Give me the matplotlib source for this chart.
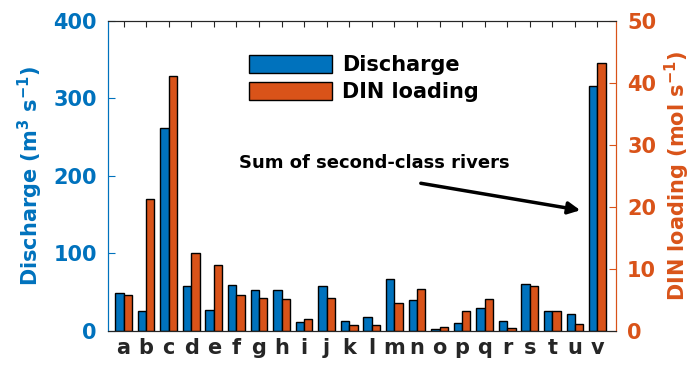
import matplotlib.pyplot as plt
import numpy as np
from matplotlib.patches import Patch

# river labels and values
rivers = list("abcdefghijklmnopqrstuv")
discharge = [48.6, 25.8, 262, 58.5, 27.5, 58.9, 52.9, 52.5, 11.6, 58.0, 12.9,
             17.6, 67.0, 40.4, 2.2, 10.3, 29.7, 12.9, 60.6, 25.8, 21.5, 316]
din_load = [5.75, 21.3, 41.1, 12.5, 10.6, 5.8, 5.4, 5.1, 1.9, 5.4, 0.9,
            1.0, 4.5, 6.7, 0.65, 3.2, 5.2, 0.5, 7.3, 3.2, 1.1, 43.3]

BLUE = "#0072BD"
ORANGE = "#D95319"
DARK = "#262626"
FS = 15

x = np.arange(1, len(rivers) + 1)
w = 0.37

fig = plt.figure(figsize=(6.94, 3.65), dpi=100)
ax1 = fig.add_axes([0.1556, 0.0932, 0.732, 0.8493])
ax2 = ax1.twinx()

ax1.bar(x - w / 2, discharge, width=w, color=BLUE, edgecolor="black", lw=1)
ax2.bar(x + w / 2, din_load, width=w, color=ORANGE, edgecolor="black", lw=1)

ax1.set_xlim(0.31, 22.82)
ax1.set_ylim(0, 400)
ax2.set_ylim(0, 50)
ax1.set_yticks([0, 100, 200, 300, 400])
ax2.set_yticks([0, 10, 20, 30, 40, 50])
ax1.set_xticks(x)
ax1.set_xticklabels(rivers, fontsize=FS, fontweight="bold", color=DARK)

ax1.tick_params(axis="x", direction="in", top=True, bottom=False, length=4,
                color=DARK, pad=5)
ax1.tick_params(axis="y", direction="in", colors=BLUE, length=5,
                labelsize=FS, pad=8)
ax2.tick_params(axis="y", direction="in", colors=ORANGE, length=5,
                labelsize=FS, pad=8)
for lab in ax1.get_yticklabels() + ax2.get_yticklabels():
    lab.set_fontweight("bold")

ax1.set_ylabel("Discharge (m$^\\mathbf{3}$ s$^\\mathbf{-1}$)", color=BLUE,
               fontsize=FS, fontweight="bold", labelpad=6)
ax2.set_ylabel("DIN loading (mol s$^\\mathbf{-1}$)", color=ORANGE,
               fontsize=FS, fontweight="bold", labelpad=5)

for ax in (ax1, ax2):
    ax.spines["top"].set_color(DARK)
    ax.spines["bottom"].set_color(DARK)
    ax.spines["left"].set_color(BLUE)
    ax.spines["right"].set_color(ORANGE)

ax2.text(6.12, 27.1, "Sum of second-class rivers", fontsize=13,
         fontweight="bold", va="center", ha="left")
ax2.annotate("", xy=(21.36, 19.4), xytext=(14.05, 23.9),
             arrowprops=dict(arrowstyle="-|>", color="black", lw=2.5,
                             mutation_scale=18))

handles = [Patch(facecolor=BLUE, edgecolor="black", label="Discharge"),
           Patch(facecolor=ORANGE, edgecolor="black", label="DIN loading")]
ax2.legend(handles=handles, loc="upper left", bbox_to_anchor=(0.24, 0.95),
           frameon=False, handlelength=4.0, handleheight=0.95,
           labelspacing=0.3, handletextpad=0.5,
           prop=dict(size=FS, weight="bold"))

fig.savefig("out.png", dpi=100)
